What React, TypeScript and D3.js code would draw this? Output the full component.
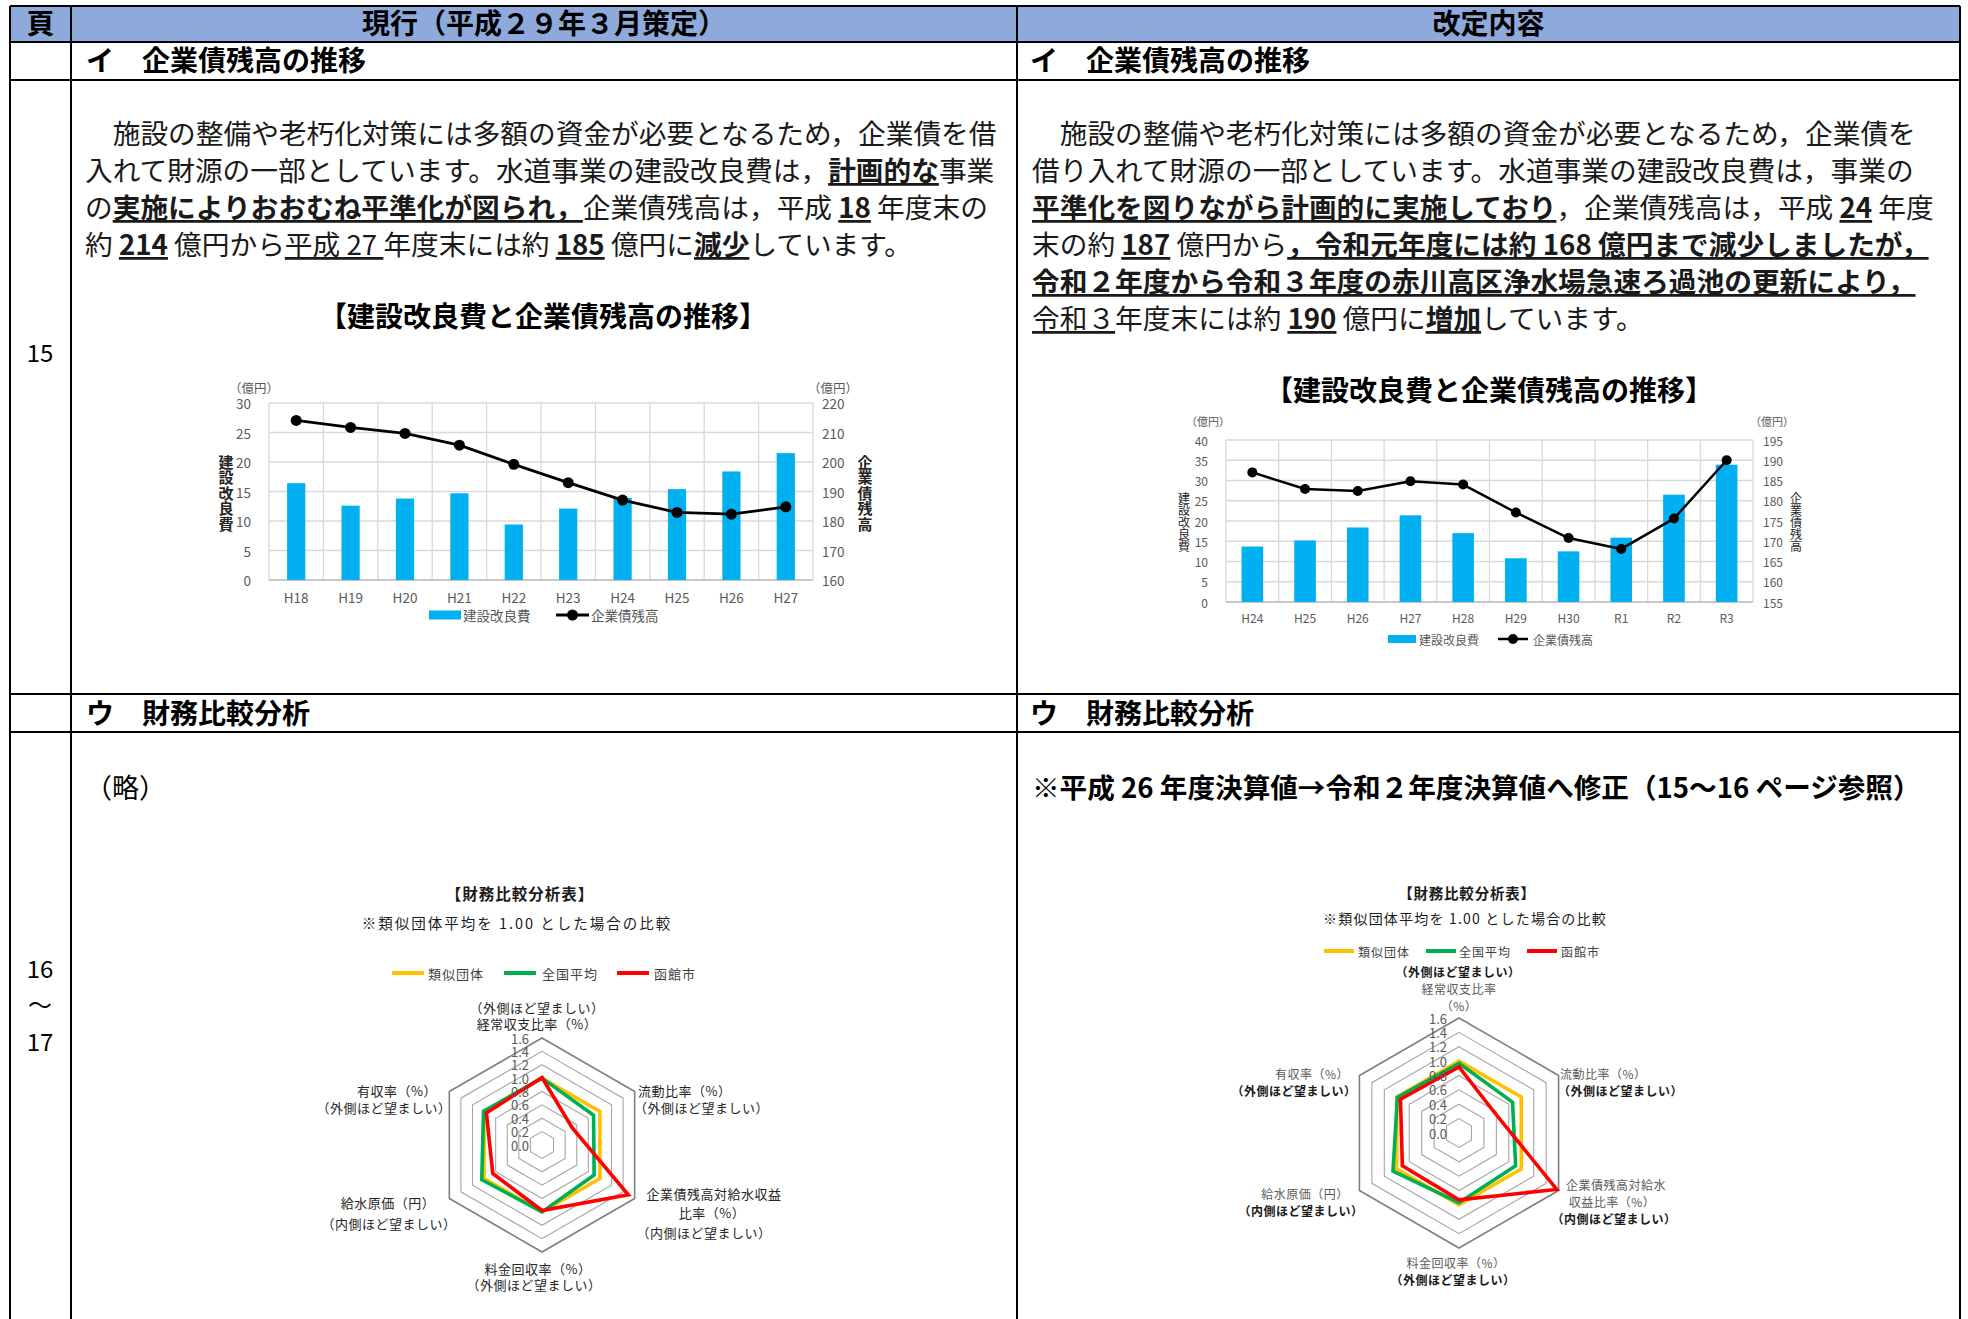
import React from "react";
import * as d3 from "d3";

const FONT = '"Noto Sans CJK JP","Noto Sans",sans-serif';

// ---------- data ----------
const oldYears = ["H18", "H19", "H20", "H21", "H22", "H23", "H24", "H25", "H26", "H27"];
const oldConstructionCost = [16.4, 12.6, 13.8, 14.7, 9.4, 12.1, 13.9, 15.4, 18.4, 21.5];
const oldBondBalance = [214.1, 211.7, 209.7, 205.7, 199.2, 193.0, 187.1, 182.9, 182.3, 184.8];
const oldCostTicks = [0, 5, 10, 15, 20, 25, 30];
const oldBalanceTicks = [160, 170, 180, 190, 200, 210, 220];

const newYears = ["H24", "H25", "H26", "H27", "H28", "H29", "H30", "R1", "R2", "R3"];
const newConstructionCost = [13.7, 15.2, 18.4, 21.4, 17.0, 10.8, 12.5, 15.9, 26.5, 33.9];
const newBondBalance = [187.0, 182.9, 182.4, 184.8, 184.0, 177.1, 170.8, 168.1, 175.6, 190.0];
const newCostTicks = [0, 5, 10, 15, 20, 25, 30, 35, 40];
const newBalanceTicks = [155, 160, 165, 170, 175, 180, 185, 190, 195];

const barSeriesName = "建設改良費";
const lineSeriesName = "企業債残高";

const radarTicks = [0, 0.2, 0.4, 0.6, 0.8, 1.0, 1.2, 1.4, 1.6];
const radarSeriesNames = ["類似団体", "全国平均", "函館市"];
// axes order (clockwise from top): 経常収支比率, 流動比率, 企業債残高対給水収益比率, 料金回収率, 給水原価, 有収率
const oldSimilar = [1, 1, 1, 1, 1, 1];
const oldNational = [1.0, 0.89, 0.9, 1.0, 1.04, 1.01];
const oldHakodate = [1.01, 0.52, 1.49, 0.98, 0.85, 0.96];
const newSimilar = [1, 1, 1, 1, 1, 1];
const newNational = [0.97, 0.86, 0.91, 0.97, 1.06, 0.99];
const newHakodate = [0.92, 0.57, 1.57, 0.93, 0.91, 0.94];

type Seg = [string, number]; // 0 normal, 1 bold+underline, 2 underline
const leftParagraph: Seg[][] = [
  [["　施設の整備や老朽化対策には多額の資金が必要となるため，企業債を借", 0]],
  [["入れて財源の一部としています。水道事業の建設改良費は，", 0], ["計画的な", 1], ["事業", 0]],
  [["の", 0], ["実施によりおおむね平準化が図られ，", 1], ["企業債残高は，平成 ", 0], ["18", 1], [" 年度末の", 0]],
  [["約 ", 0], ["214", 1], [" 億円から", 0], ["平成 27 ", 2], ["年度末には約 ", 0], ["185", 1], [" 億円に", 0], ["減少", 1], ["しています。", 0]],
];
const rightParagraph: Seg[][] = [
  [["　施設の整備や老朽化対策には多額の資金が必要となるため，企業債を", 0]],
  [["借り入れて財源の一部としています。水道事業の建設改良費は，事業の", 0]],
  [["平準化を図りながら計画的に実施しており", 1], ["，企業債残高は，平成 ", 0], ["24", 1], [" 年度", 0]],
  [["末の約 ", 0], ["187", 1], [" 億円から", 0], ["，令和元年度には約 168 億円まで減少しましたが，", 1]],
  [["令和２年度から令和３年度の赤川高区浄水場急速ろ過池の更新により，", 1]],
  [["令和３", 2], ["年度末には約 ", 0], ["190", 1], [" 億円に", 0], ["増加", 1], ["しています。", 0]],
];

// ---------- components ----------
function Para({ lines, x, y0, dy, fs }: { lines: Seg[][]; x: number; y0: number; dy: number; fs: number }) {
  return (
    <g>
      {lines.map((segs, li) => (
        <text key={li} x={x} y={y0 + li * dy} fontSize={fs} dominantBaseline="central" fill="#1a1a1a">
          {segs.map(([t, s], si) => (
            <tspan
              key={si}
              fontWeight={s === 1 ? 700 : 400}
              style={{ textDecoration: s ? "underline" : "none", whiteSpace: "pre" }}
            >
              {t}
            </tspan>
          ))}
        </text>
      ))}
    </g>
  );
}

type BarProps = {
  x0: number; x1: number; y0: number; y1: number;
  cats: string[]; bars: number[]; line: number[];
  lTicks: number[]; rTicks: number[];
  fs: number; catY: number; lLabelX: number; rLabelX: number;
  unitY: number; unitLX: number; unitRX: number;
  titleLX: number; titleRX: number; titleY0: number; titleDy: number; titleFs: number; titleBold: boolean;
  legY: number; legRectX: number; legRectW: number; legRectH: number; legText1X: number;
  legLineX: number; legLineW: number; legText2X: number; legFs: number;
  barRatio: number; lineW: number; dotR: number;
};

function BarLineChart(p: BarProps) {
  const x = d3.scaleBand<string>().domain(p.cats).range([p.x0, p.x1]).padding(0);
  const yL = d3.scaleLinear().domain(d3.extent(p.lTicks) as [number, number]).range([p.y1, p.y0]);
  const yR = d3.scaleLinear().domain(d3.extent(p.rTicks) as [number, number]).range([p.y1, p.y0]);
  const bw = x.bandwidth() * p.barRatio;
  const cxOf = (c: string) => (x(c) as number) + x.bandwidth() / 2;
  const path = d3
    .line<number>()
    .x((_, i) => cxOf(p.cats[i]))
    .y((v) => yR(v))(p.line) as string;
  const vLines = [...p.cats.map((c) => x(c) as number), p.x1];
  const gray = "#595959";
  return (
    <g>
      {p.lTicks.map((t) => (
        <line key={"h" + t} x1={p.x0} x2={p.x1} y1={yL(t)} y2={yL(t)} stroke="#d9d9d9" strokeWidth={1.3} />
      ))}
      {vLines.map((vx, i) => (
        <line key={"v" + i} x1={vx} x2={vx} y1={p.y0} y2={p.y1} stroke="#d9d9d9" strokeWidth={1.3} />
      ))}
      <line x1={p.x0} x2={p.x1} y1={p.y1} y2={p.y1} stroke="#bfbfbf" strokeWidth={1.3} />
      {p.bars.map((v, i) => (
        <rect key={"b" + i} x={cxOf(p.cats[i]) - bw / 2} width={bw} y={yL(v)} height={p.y1 - yL(v)} fill="#00b0f0" />
      ))}
      <path d={path} fill="none" stroke="#000" strokeWidth={p.lineW} strokeLinejoin="round" />
      {p.line.map((v, i) => (
        <circle key={"d" + i} cx={cxOf(p.cats[i])} cy={yR(v)} r={p.dotR} fill="#000" />
      ))}
      {p.lTicks.map((t) => (
        <text key={"lt" + t} x={p.lLabelX} y={yL(t)} fontSize={p.fs} textAnchor="end" dominantBaseline="central" fill={gray}>
          {t}
        </text>
      ))}
      {p.rTicks.map((t) => (
        <text key={"rt" + t} x={p.rLabelX} y={yR(t)} fontSize={p.fs} textAnchor="start" dominantBaseline="central" fill={gray}>
          {t}
        </text>
      ))}
      {p.cats.map((c) => (
        <text key={"c" + c} x={cxOf(c)} y={p.catY} fontSize={p.fs} textAnchor="middle" dominantBaseline="central" fill={gray}>
          {c}
        </text>
      ))}
      <text x={p.unitLX} y={p.unitY} fontSize={p.fs - 1} dominantBaseline="central" fill={gray}>（億円）</text>
      <text x={p.unitRX} y={p.unitY} fontSize={p.fs - 1} dominantBaseline="central" fill={gray}>（億円）</text>
      {Array.from(barSeriesName).map((ch, i) => (
        <text key={"tl" + i} x={p.titleLX} y={p.titleY0 + i * p.titleDy} fontSize={p.titleFs} fontWeight={p.titleBold ? 700 : 400} textAnchor="middle" dominantBaseline="central" fill="#262626">
          {ch}
        </text>
      ))}
      {Array.from(lineSeriesName).map((ch, i) => (
        <text key={"tr" + i} x={p.titleRX} y={p.titleY0 + i * p.titleDy} fontSize={p.titleFs} fontWeight={p.titleBold ? 700 : 400} textAnchor="middle" dominantBaseline="central" fill="#262626">
          {ch}
        </text>
      ))}
      <rect x={p.legRectX} y={p.legY - p.legRectH / 2} width={p.legRectW} height={p.legRectH} fill="#00b0f0" />
      <text x={p.legText1X} y={p.legY} fontSize={p.legFs} dominantBaseline="central" fill={gray}>{barSeriesName}</text>
      <line x1={p.legLineX} x2={p.legLineX + p.legLineW} y1={p.legY} y2={p.legY} stroke="#000" strokeWidth={p.lineW} />
      <circle cx={p.legLineX + p.legLineW / 2} cy={p.legY} r={p.dotR} fill="#000" />
      <text x={p.legText2X} y={p.legY} fontSize={p.legFs} dominantBaseline="central" fill={gray}>{lineSeriesName}</text>
    </g>
  );
}

type LabelLine = { t: string; x: number; y: number; bold?: boolean; anchor?: string };
type RadarProps = {
  cx: number; cy: number; R: number;
  values: number[][];
  tickX: number; tickFs: number; labelFs: number;
  labels: LabelLine[]; boldColor: string; normalColor: string;
  titleX: number; titleY: number; subX: number; subY: number; titleFs: number; subFs: number;
  titleSpacing: number; subSpacing: number;
  legY: number; legItems: { lx: number; tx: number }[]; legLen: number;
};

const radarColors = ["#ffc000", "#00b050", "#ff0000"];

function Radar(p: RadarProps) {
  const r = d3.scaleLinear().domain([0, 1.6]).range([0, p.R]);
  const n = 6;
  const radial = (vals: number[]) =>
    d3
      .lineRadial<number>()
      .angle((_, i) => (i * 2 * Math.PI) / n)
      .radius((v) => r(v))
      .curve(d3.curveLinearClosed)(vals) as string;
  return (
    <g>
      <text x={p.titleX} y={p.titleY} fontSize={p.titleFs} fontWeight={700} textAnchor="middle" dominantBaseline="central" fill="#1a1a1a" letterSpacing={p.titleSpacing}>
        【財務比較分析表】
      </text>
      <text x={p.subX} y={p.subY} fontSize={p.subFs} textAnchor="middle" dominantBaseline="central" fill="#1a1a1a" letterSpacing={p.subSpacing} style={{ whiteSpace: "pre" }}>
        ※類似団体平均を 1.00 とした場合の比較
      </text>
      {p.legItems.map((it, i) => (
        <g key={"lg" + i}>
          <line x1={it.lx} x2={it.lx + p.legLen} y1={p.legY} y2={p.legY} stroke={radarColors[i]} strokeWidth={4} />
          <text x={it.tx} y={p.legY} fontSize={p.labelFs} dominantBaseline="central" fill="#404040" letterSpacing={1}>
            {radarSeriesNames[i]}
          </text>
        </g>
      ))}
      <g transform={`translate(${p.cx},${p.cy})`}>
        {radarTicks.slice(1).map((t, i) => (
          <path
            key={"ring" + i}
            d={radial(new Array(n).fill(t))}
            fill="none"
            stroke={t === 1.6 ? "#7f7f7f" : "#a6a6a6"}
            strokeWidth={t === 1.6 ? 1.6 : 1.1}
          />
        ))}
        {p.values.map((vals, si) => (
          <path key={"s" + si} d={radial(vals)} fill="none" stroke={radarColors[si]} strokeWidth={3.6} strokeLinejoin="miter" />
        ))}
      </g>
      {radarTicks.map((t) => (
        <text key={"t" + t} x={p.tickX} y={p.cy - r(t)} fontSize={p.tickFs} textAnchor="end" dominantBaseline="central" fill="#595959">
          {d3.format(".1f")(t)}
        </text>
      ))}
      {p.labels.map((l, i) => (
        <text
          key={"al" + i}
          x={l.x}
          y={l.y}
          fontSize={p.labelFs}
          fontWeight={l.bold ? 700 : 400}
          textAnchor={(l.anchor as any) || "middle"}
          dominantBaseline="central"
          fill={l.bold ? p.boldColor : p.normalColor}
          letterSpacing={0.5}
        >
          {l.t}
        </text>
      ))}
    </g>
  );
}

function Table() {
  const L = 10, Rr = 1960, C1 = 71, M = 1017;
  const y0 = 6, y1 = 42, y2 = 80, y3 = 694, y4 = 732, yEnd = 1330;
  const sw = 2;
  const hfs = 28;
  return (
    <g>
      <rect x={L} y={y0} width={Rr - L} height={y1 - y0} fill="#8eaadb" />
      {[y0, y1, y2, y3, y4].map((y, i) => (
        <line key={"hl" + i} x1={L} x2={Rr} y1={y} y2={y} stroke="#000" strokeWidth={sw} />
      ))}
      {[L, C1, M, Rr].map((x, i) => (
        <line key={"vl" + i} x1={x} x2={x} y1={y0} y2={yEnd} stroke="#000" strokeWidth={sw} />
      ))}
      <text x={(L + C1) / 2} y={(y0 + y1) / 2 - 2} fontSize={hfs} fontWeight={700} textAnchor="middle" dominantBaseline="central">頁</text>
      <text x={(C1 + M) / 2} y={(y0 + y1) / 2 - 2} fontSize={hfs} fontWeight={700} textAnchor="middle" dominantBaseline="central">現行（平成２９年３月策定）</text>
      <text x={(M + Rr) / 2} y={(y0 + y1) / 2 - 2} fontSize={hfs} fontWeight={700} textAnchor="middle" dominantBaseline="central">改定内容</text>
      <text x={86} y={(y1 + y2) / 2 - 2} fontSize={hfs} fontWeight={700} dominantBaseline="central" style={{ whiteSpace: "pre" }}>イ　企業債残高の推移</text>
      <text x={1030} y={(y1 + y2) / 2 - 2} fontSize={hfs} fontWeight={700} dominantBaseline="central" style={{ whiteSpace: "pre" }}>イ　企業債残高の推移</text>
      <text x={86} y={(y3 + y4) / 2 - 1} fontSize={hfs} fontWeight={700} dominantBaseline="central" style={{ whiteSpace: "pre" }}>ウ　財務比較分析</text>
      <text x={1030} y={(y3 + y4) / 2 - 1} fontSize={hfs} fontWeight={700} dominantBaseline="central" style={{ whiteSpace: "pre" }}>ウ　財務比較分析</text>
      <text x={40} y={351} fontSize={24} textAnchor="middle" dominantBaseline="central">15</text>
      <text x={40} y={967} fontSize={24} textAnchor="middle" dominantBaseline="central">16</text>
      <text x={40} y={1003} fontSize={24} textAnchor="middle" dominantBaseline="central">～</text>
      <text x={40} y={1040} fontSize={24} textAnchor="middle" dominantBaseline="central">17</text>
    </g>
  );
}

export default function App() {
  const leftLabels: LabelLine[] = [
    { t: "（外側ほど望ましい）", x: 537, y: 1007 },
    { t: "経常収支比率（%）", x: 537, y: 1023 },
    { t: "流動比率（%）", x: 638, y: 1090, anchor: "start" },
    { t: "（外側ほど望ましい）", x: 634, y: 1107, anchor: "start" },
    { t: "企業債残高対給水収益", x: 714, y: 1193 },
    { t: "比率（%）", x: 712, y: 1212 },
    { t: "（内側ほど望ましい）", x: 704, y: 1232 },
    { t: "料金回収率（%）", x: 538, y: 1268 },
    { t: "（外側ほど望ましい）", x: 534, y: 1284 },
    { t: "給水原価（円）", x: 388, y: 1202 },
    { t: "（内側ほど望ましい）", x: 389, y: 1223 },
    { t: "有収率（%）", x: 397, y: 1090 },
    { t: "（外側ほど望ましい）", x: 384, y: 1107 },
  ];
  const rightLabels: LabelLine[] = [
    { t: "（外側ほど望ましい）", x: 1458, y: 971, bold: true },
    { t: "経常収支比率", x: 1459, y: 988 },
    { t: "（%）", x: 1459, y: 1005 },
    { t: "流動比率（%）", x: 1560, y: 1073, anchor: "start" },
    { t: "（外側ほど望ましい）", x: 1558, y: 1090, anchor: "start", bold: true },
    { t: "企業債残高対給水", x: 1616, y: 1184 },
    { t: "収益比率（%）", x: 1612, y: 1201 },
    { t: "（内側ほど望ましい）", x: 1614, y: 1218, bold: true },
    { t: "料金回収率（%）", x: 1456, y: 1262 },
    { t: "（外側ほど望ましい）", x: 1453, y: 1279, bold: true },
    { t: "給水原価（円）", x: 1305, y: 1193 },
    { t: "（内側ほど望ましい）", x: 1301, y: 1210, bold: true },
    { t: "有収率（%）", x: 1312, y: 1073 },
    { t: "（外側ほど望ましい）", x: 1294, y: 1090, bold: true },
  ];
  return (
    <svg
      width={1968}
      height={1319}
      viewBox="0 0 1968 1319"
      style={{ position: "absolute", left: 0, top: 0, display: "block" }}
      fontFamily={FONT}
    >
      <rect width={1968} height={1319} fill="#fff" />
      <Table />
      <Para lines={leftParagraph} x={85} y0={132} dy={37} fs={27.7} />
      <Para lines={rightParagraph} x={1032} y0={132} dy={37} fs={27.7} />
      <text x={543} y={315} fontSize={28} fontWeight={700} textAnchor="middle" dominantBaseline="central">【建設改良費と企業債残高の推移】</text>
      <text x={1489} y={389} fontSize={28} fontWeight={700} textAnchor="middle" dominantBaseline="central">【建設改良費と企業債残高の推移】</text>
      <text x={85} y={786} fontSize={27} dominantBaseline="central">（略）</text>
      <text x={1032} y={786} fontSize={27.6} fontWeight={700} dominantBaseline="central" style={{ whiteSpace: "pre" }}>※平成 26 年度決算値→令和２年度決算値へ修正（15～16 ページ参照）</text>

      <BarLineChart
        x0={269} x1={813} y0={403} y1={580}
        cats={oldYears} bars={oldConstructionCost} line={oldBondBalance}
        lTicks={oldCostTicks} rTicks={oldBalanceTicks}
        fs={13.5} catY={597} lLabelX={251} rLabelX={822}
        unitY={387} unitLX={229} unitRX={808}
        titleLX={226} titleRX={865} titleY0={461} titleDy={15.5} titleFs={15} titleBold={true}
        legY={615} legRectX={429} legRectW={32} legRectH={9} legText1X={463}
        legLineX={556} legLineW={33} legText2X={591} legFs={13.5}
        barRatio={0.335} lineW={2.8} dotR={5.5}
      />
      <BarLineChart
        x0={1226} x1={1753} y0={440} y1={602}
        cats={newYears} bars={newConstructionCost} line={newBondBalance}
        lTicks={newCostTicks} rTicks={newBalanceTicks}
        fs={12} catY={617} lLabelX={1208} rLabelX={1763}
        unitY={421} unitLX={1186} unitRX={1750}
        titleLX={1184} titleRX={1796} titleY0={497} titleDy={12} titleFs={12} titleBold={false}
        legY={639} legRectX={1388} legRectW={28} legRectH={8} legText1X={1419}
        legLineX={1498} legLineW={30} legText2X={1533} legFs={12}
        barRatio={0.41} lineW={2.5} dotR={5}
      />

      <Radar
        cx={542} cy={1145} R={107}
        values={[oldSimilar, oldNational, oldHakodate]}
        tickX={529} tickFs={13} labelFs={13}
        labels={leftLabels} boldColor="#262626" normalColor="#262626"
        titleX={520} titleY={893} subX={517} subY={922} titleFs={15.5} subFs={14.5}
        titleSpacing={1} subSpacing={2}
        legY={973} legItems={[{ lx: 392, tx: 428 }, { lx: 504, tx: 542 }, { lx: 617, tx: 654 }]} legLen={32}
      />
      <Radar
        cx={1459} cy={1133} R={115}
        values={[newSimilar, newNational, newHakodate]}
        tickX={1447} tickFs={13} labelFs={12}
        labels={rightLabels} boldColor="#1a1a1a" normalColor="#595959"
        titleX={1467} titleY={892} subX={1465} subY={918} titleFs={14.5} subFs={14}
        titleSpacing={0.8} subSpacing={1.2}
        legY={951} legItems={[{ lx: 1324, tx: 1358 }, { lx: 1426, tx: 1459 }, { lx: 1527, tx: 1561 }]} legLen={30}
      />
    </svg>
  );
}
